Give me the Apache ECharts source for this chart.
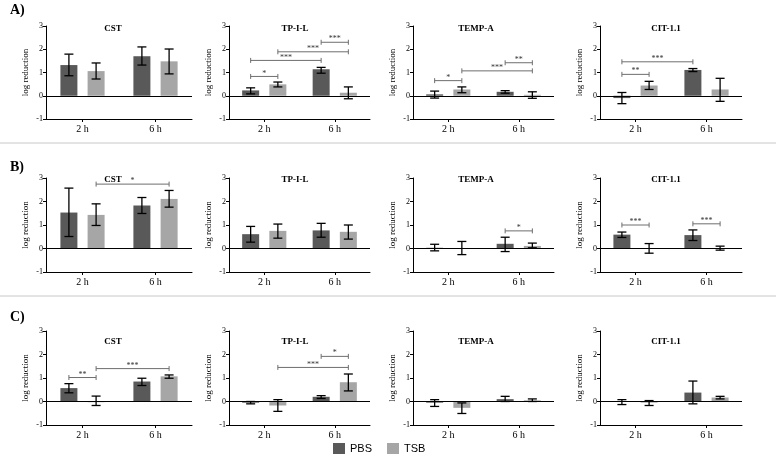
<!DOCTYPE html>
<html><head><meta charset="utf-8">
<script src="https://cdn.jsdelivr.net/npm/echarts@6/dist/echarts.min.js"></script>
<style>html,body{margin:0;padding:0;background:#fff}#c{width:784px;height:468px}</style>
</head><body><div id="c"></div><script>
// ---------- DATA ----------
const categories = ['2 h', '6 h'];
const strains = ['CST', 'TP-I-L', 'TEMP-A', 'CIT-1.1'];
const rowLabels = ['A)', 'B)', 'C)'];
const seriesNames = ['PBS', 'TSB'];
const yMin = -1, yMax = 3, yStep = 1;

// means per strain: [2 h, 6 h]
const pbsMeanA = [[1.32, 1.70], [0.23, 1.14], [0.06, 0.17], [-0.10, 1.11]];
const tsbMeanA = [[1.06, 1.48], [0.49, 0.13], [0.27, 0.04], [0.44, 0.27]];
// error bars per strain: [[low, high] at 2 h, [low, high] at 6 h]
const pbsErrA = [[[0.86, 1.79], [1.32, 2.10]], [[0.08, 0.34], [0.97, 1.22]], [[-0.10, 0.20], [0.11, 0.22]], [[-0.34, 0.14], [1.04, 1.17]]];
const tsbErrA = [[[0.72, 1.41], [0.94, 2.01]], [[0.38, 0.59], [-0.13, 0.38]], [[0.13, 0.38], [-0.11, 0.17]], [[0.27, 0.62], [-0.24, 0.75]]];
// significance brackets per strain: [from, to, height, label]; P/T = PBS/TSB, 0/1 = 2 h/6 h
const sigA = [
  [],
  [['P0', 'T0', 0.83, '*'], ['P0', 'P1', 1.52, '***'], ['T0', 'T1', 1.89, '***'], ['P1', 'T1', 2.30, '***']],
  [['P0', 'T0', 0.65, '*'], ['T0', 'T1', 1.07, '***'], ['P1', 'T1', 1.42, '**']],
  [['P0', 'T0', 0.92, '**'], ['P0', 'P1', 1.46, '***']]
];

const pbsMeanB = [[1.53, 1.83], [0.61, 0.77], [0.03, 0.20], [0.59, 0.57]];
const tsbMeanB = [[1.43, 2.11], [0.75, 0.71], [0.02, 0.11], [0.01, 0.02]];
const pbsErrB = [[[0.51, 2.57], [1.49, 2.17]], [[0.27, 0.94], [0.48, 1.07]], [[-0.10, 0.18], [-0.13, 0.48]], [[0.47, 0.70], [0.34, 0.79]]];
const tsbErrB = [[[0.98, 1.90], [1.76, 2.47]], [[0.44, 1.04], [0.40, 1.00]], [[-0.26, 0.30], [0.03, 0.23]], [[-0.20, 0.21], [-0.07, 0.10]]];
const sigB = [
  [['T0', 'T1', 2.74, '*']],
  [],
  [['P1', 'T1', 0.75, '*']],
  [['P0', 'T0', 1.00, '***'], ['P1', 'T1', 1.05, '***']]
];

const pbsMeanC = [[0.57, 0.85], [-0.05, 0.20], [-0.05, 0.10], [-0.02, 0.38]];
const tsbMeanC = [[-0.03, 1.07], [-0.17, 0.82], [-0.27, 0.05], [-0.05, 0.17]];
const pbsErrC = [[[0.37, 0.76], [0.68, 0.99]], [[-0.10, 0.00], [0.13, 0.25]], [[-0.21, 0.08], [0.00, 0.22]], [[-0.13, 0.08], [-0.10, 0.87]]];
const tsbErrC = [[[-0.17, 0.23], [0.99, 1.13]], [[-0.42, 0.08], [0.45, 1.17]], [[-0.51, -0.06], [0.00, 0.11]], [[-0.17, 0.04], [0.11, 0.22]]];
const sigC = [
  [['P0', 'T0', 1.02, '**'], ['T0', 'T1', 1.40, '***']],
  [['P1', 'T1', 1.92, '*'], ['T0', 'T1', 1.45, '***']],
  [],
  []
];

// ---------- LAYOUT / STYLE ----------
const colLeft = [46, 229, 413, 600];
const colRight = [192, 370, 554, 742];
const rowTop = [26, 178, 331];
const rowBottom = [119, 272, 425];
const titleX = [113, 295, 476, 666];
const titleY = [29, 180, 342];
const rowLabelY = [10, 167, 317];
const sepY = [143, 296];
const colors = ['#595959', '#a6a6a6'];
const BAR_W = 17, BAR_GAP = 0.6;
const OFF = (BAR_W + BAR_W * BAR_GAP) / 2;
const SERIF = 'Liberation Serif';

const rows = [
  { pm: pbsMeanA, tm: tsbMeanA, pe: pbsErrA, te: tsbErrA, sig: sigA },
  { pm: pbsMeanB, tm: tsbMeanB, pe: pbsErrB, te: tsbErrB, sig: sigB },
  { pm: pbsMeanC, tm: tsbMeanC, pe: pbsErrC, te: tsbErrC, sig: sigC }
];

function errRender(side) {
  return function (params, api) {
    const x = api.value(0);
    const lo = api.coord([x, api.value(1)]);
    const hi = api.coord([x, api.value(2)]);
    const cx = lo[0] + side * OFF;
    const cap = 4.5;
    const st = { stroke: '#000', lineWidth: 1.3 };
    return { type: 'group', children: [
      { type: 'line', shape: { x1: cx, y1: lo[1], x2: cx, y2: hi[1] }, style: st },
      { type: 'line', shape: { x1: cx - cap, y1: lo[1], x2: cx + cap, y2: lo[1] }, style: st },
      { type: 'line', shape: { x1: cx - cap, y1: hi[1], x2: cx + cap, y2: hi[1] }, style: st }
    ]};
  };
}
function sigRender(labels) {
  return function (params, api) {
    const a = api.coord([api.value(0), api.value(4)]);
    const b = api.coord([api.value(2), api.value(4)]);
    const x1 = a[0] + api.value(1) * OFF, x2 = b[0] + api.value(3) * OFF, y = a[1];
    const st = { stroke: '#6e6e6e', lineWidth: 1 };
    return { type: 'group', children: [
      { type: 'line', shape: { x1: x1, y1: y, x2: x2, y2: y }, style: st },
      { type: 'line', shape: { x1: x1, y1: y - 2.5, x2: x1, y2: y + 2.5 }, style: st },
      { type: 'line', shape: { x1: x2, y1: y - 2.5, x2: x2, y2: y + 2.5 }, style: st },
      { type: 'text', style: { text: labels[params.dataIndex], x: (x1 + x2) / 2, y: y - 3,
        align: 'center', verticalAlign: 'middle', fontSize: 8, fontFamily: SERIF, fill: '#333' } }
    ]};
  };
}
const parseRef = s => [Number(s[1]), s[0] === 'P' ? -1 : 1];

const grid = [], xAxis = [], yAxis = [], series = [], graphic = [];
rows.forEach((row, r) => {
  strains.forEach((name, c) => {
    const gi = grid.length;
    grid.push({ left: colLeft[c], top: rowTop[r], width: colRight[c] - colLeft[c], height: rowBottom[r] - rowTop[r], containLabel: false });
    xAxis.push({ type: 'category', gridIndex: gi, data: categories,
      axisLine: { show: true, onZero: false, lineStyle: { color: '#000', width: 1 } },
      axisTick: { show: true, alignWithLabel: true, length: 3, lineStyle: { color: '#000' } },
      axisLabel: { color: '#000', fontSize: 10, fontFamily: SERIF, margin: 5 },
      splitLine: { show: false } });
    yAxis.push({ type: 'value', gridIndex: gi, min: yMin, max: yMax, interval: yStep,
      name: 'log reduction', nameLocation: 'middle', nameGap: 16,
      nameTextStyle: { color: '#000', fontSize: 9, fontFamily: SERIF },
      axisLine: { show: true, lineStyle: { color: '#000', width: 1 } },
      axisTick: { show: true, length: 3, lineStyle: { color: '#000' } },
      axisLabel: { color: '#000', fontSize: 8, fontFamily: SERIF, margin: 3 },
      splitLine: { show: false } });
    const means = [row.pm[c], row.tm[c]];
    const errs = [row.pe[c], row.te[c]];
    means.forEach((m, s) => {
      const ser = { type: 'bar', name: seriesNames[s], xAxisIndex: gi, yAxisIndex: gi, data: m,
        barWidth: BAR_W, barGap: (BAR_GAP * 100) + '%', itemStyle: { color: colors[s] },
        emphasis: { disabled: true }, animation: false, z: 2 };
      if (s === 0) ser.markLine = { silent: true, symbol: 'none', label: { show: false },
        lineStyle: { color: '#000', type: 'solid', width: 1 }, data: [{ yAxis: 0 }], animation: false };
      series.push(ser);
    });
    errs.forEach((e, s) => {
      series.push({ type: 'custom', xAxisIndex: gi, yAxisIndex: gi, z: 5, animation: false,
        renderItem: errRender(s === 0 ? -1 : 1),
        data: e.map((lh, k) => [k, lh[0], lh[1]]) });
    });
    const sig = row.sig[c];
    if (sig.length) {
      series.push({ type: 'custom', xAxisIndex: gi, yAxisIndex: gi, z: 6, animation: false,
        renderItem: sigRender(sig.map(d => d[3])),
        data: sig.map(d => { const a = parseRef(d[0]), b = parseRef(d[1]); return [a[0], a[1], b[0], b[1], d[2]]; }) });
    }
    graphic.push({ type: 'text', x: titleX[c], y: titleY[r],
      style: { text: name, align: 'center', verticalAlign: 'middle', fontSize: 9, fontWeight: 'bold', fontFamily: SERIF, fill: '#000' } });
  });
  graphic.push({ type: 'text', x: 10, y: rowLabelY[r],
    style: { text: rowLabels[r], align: 'left', verticalAlign: 'middle', fontSize: 14, fontWeight: 'bold', fontFamily: SERIF, fill: '#000' } });
});
sepY.forEach(y => graphic.push({ type: 'line', shape: { x1: 0, y1: y, x2: 776, y2: y }, style: { stroke: '#c8c8c8', lineWidth: 1 } }));

const chart = echarts.init(document.getElementById('c'), null, { renderer: 'canvas' });
chart.setOption({
  animation: false,
  backgroundColor: '#fff',
  grid, xAxis, yAxis, series, graphic,
  legend: { data: seriesNames, left: 333, top: 443, padding: 0, itemWidth: 12, itemHeight: 11, itemGap: 15,
    icon: 'rect', textStyle: { fontSize: 11, fontFamily: 'Liberation Sans', color: '#000' }, selectedMode: false }
});
</script></body></html>
